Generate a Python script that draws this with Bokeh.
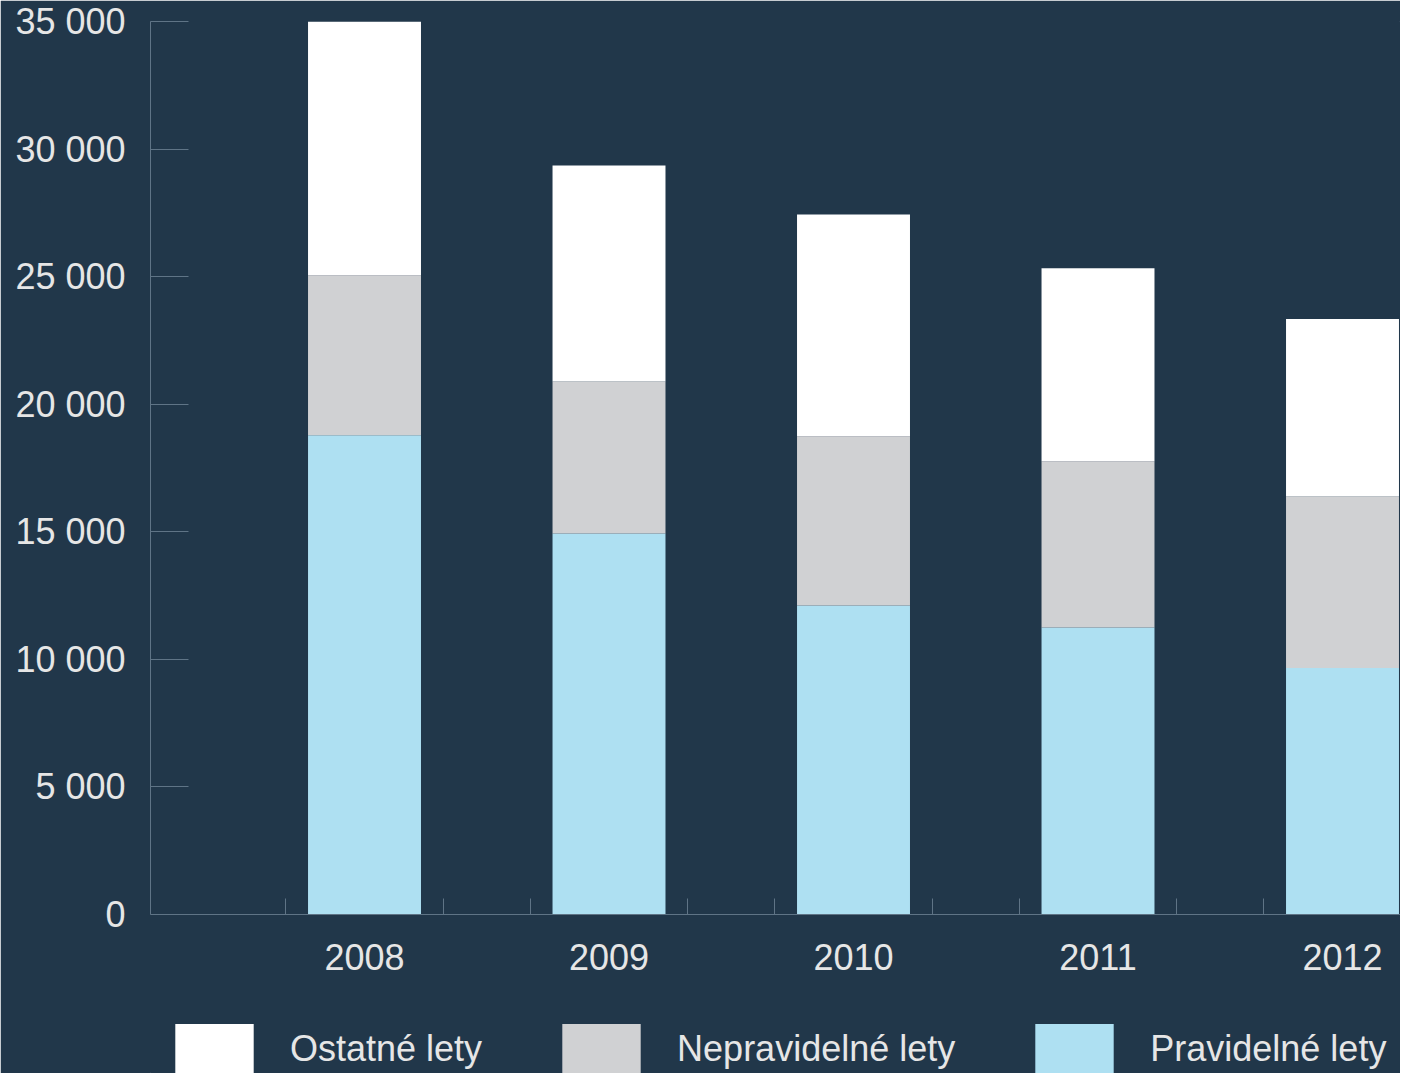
from bokeh.plotting import figure
from bokeh.models import (ColumnDataSource, FixedTicker, Legend, LegendItem, Range1d)
from bokeh.embed import file_html
from bokeh.resources import INLINE

# ---- data ----
years = ["2008", "2009", "2010", "2011", "2012"]
pravidelne = [18780, 14930, 12110, 11250, 9660]     # Pravidelné lety (bottom)
nepravidelne = [6270, 5960, 6630, 6510, 6720]       # Nepravidelné lety (middle)
ostatne = [9950, 8470, 8700, 7570, 6960]            # Ostatné lety (top)
series_names = ["Pravidelné lety", "Nepravidelné lety", "Ostatné lety"]
y_ticks = [0, 5000, 10000, 15000, 20000, 25000, 30000, 35000]
y_tick_labels = ["0", "5 000", "10 000", "15 000", "20 000", "25 000", "30 000", "35 000"]

# ---- style ----
BG = "#21374a"
AXIS = "#5f7486"
TEXT = "#e6e6e6"
COLORS = ["#aee0f2", "#d0d1d3", "#ffffff"]
FONT = "Liberation Sans"

Y_MAX = 35000
# the frame reaches down to the figure bottom so that the legend sits inside it;
# value axis starts at 0, the space under 0 holds the year labels and the legend
FRAME_H = 1073 - 21
PLOT_H = 893
y_low = -Y_MAX * (FRAME_H - PLOT_H) / PLOT_H

xs = list(range(len(years)))
src = ColumnDataSource(dict(x=xs, p=pravidelne, n=nepravidelne, o=ostatne))

p = figure(width=1400, height=1073, output_backend="svg", toolbar_location=None,
           x_range=Range1d(-0.8753, 4.2372), y_range=Range1d(y_low, Y_MAX),
           background_fill_color=BG, border_fill_color=BG,
           min_border_left=150, min_border_right=0, min_border_top=21,
           min_border_bottom=0)
p.outline_line_color = BG
p.grid.visible = False

renderers = p.vbar_stack(["p", "n", "o"], x="x", width=0.462, source=src,
                         color=COLORS, line_color=None)

# y axis
ya = p.yaxis[0]
ya.ticker = FixedTicker(ticks=y_ticks)
ya.bounds = (0, Y_MAX)
ya.major_label_overrides = {t: l for t, l in zip(y_ticks, y_tick_labels)}
ya.axis_line_color = AXIS
ya.major_tick_line_color = AXIS
ya.major_tick_in = 38
ya.major_tick_out = 0
ya.minor_tick_line_color = None
ya.major_label_text_color = TEXT
ya.major_label_text_font = FONT
ya.major_label_text_font_size = "36px"
ya.major_label_standoff = 25

# x axis, drawn at value 0
xa = p.xaxis[0]
xa.fixed_location = 0
minor = []
for i in xs:
    minor += [i - 0.323, i + 0.323]
xa.ticker = FixedTicker(ticks=xs, minor_ticks=minor)
xa.major_label_overrides = {i: y for i, y in zip(xs, years)}
xa.axis_line_color = AXIS
xa.major_tick_line_color = None
xa.major_tick_in = 0
xa.major_tick_out = 0
xa.minor_tick_line_color = AXIS
xa.minor_tick_in = 16
xa.minor_tick_out = 0
xa.major_label_text_color = TEXT
xa.major_label_text_font = FONT
xa.major_label_text_font_size = "36px"
xa.major_label_standoff = 29

# legend (order: Ostatné, Nepravidelné, Pravidelné)
items = [LegendItem(label=series_names[k], renderers=[renderers[k]]) for k in (2, 1, 0)]
legend = Legend(items=items, orientation="horizontal", location=(15, -8),
                glyph_width=98, glyph_height=64, label_standoff=27, spacing=70,
                label_text_font=FONT, label_text_font_size="36px",
                label_text_color=TEXT, background_fill_alpha=0.0,
                border_line_color=None, padding=0, margin=0)
p.add_layout(legend, "center")

open("out.html", "w").write(file_html(p, INLINE))
